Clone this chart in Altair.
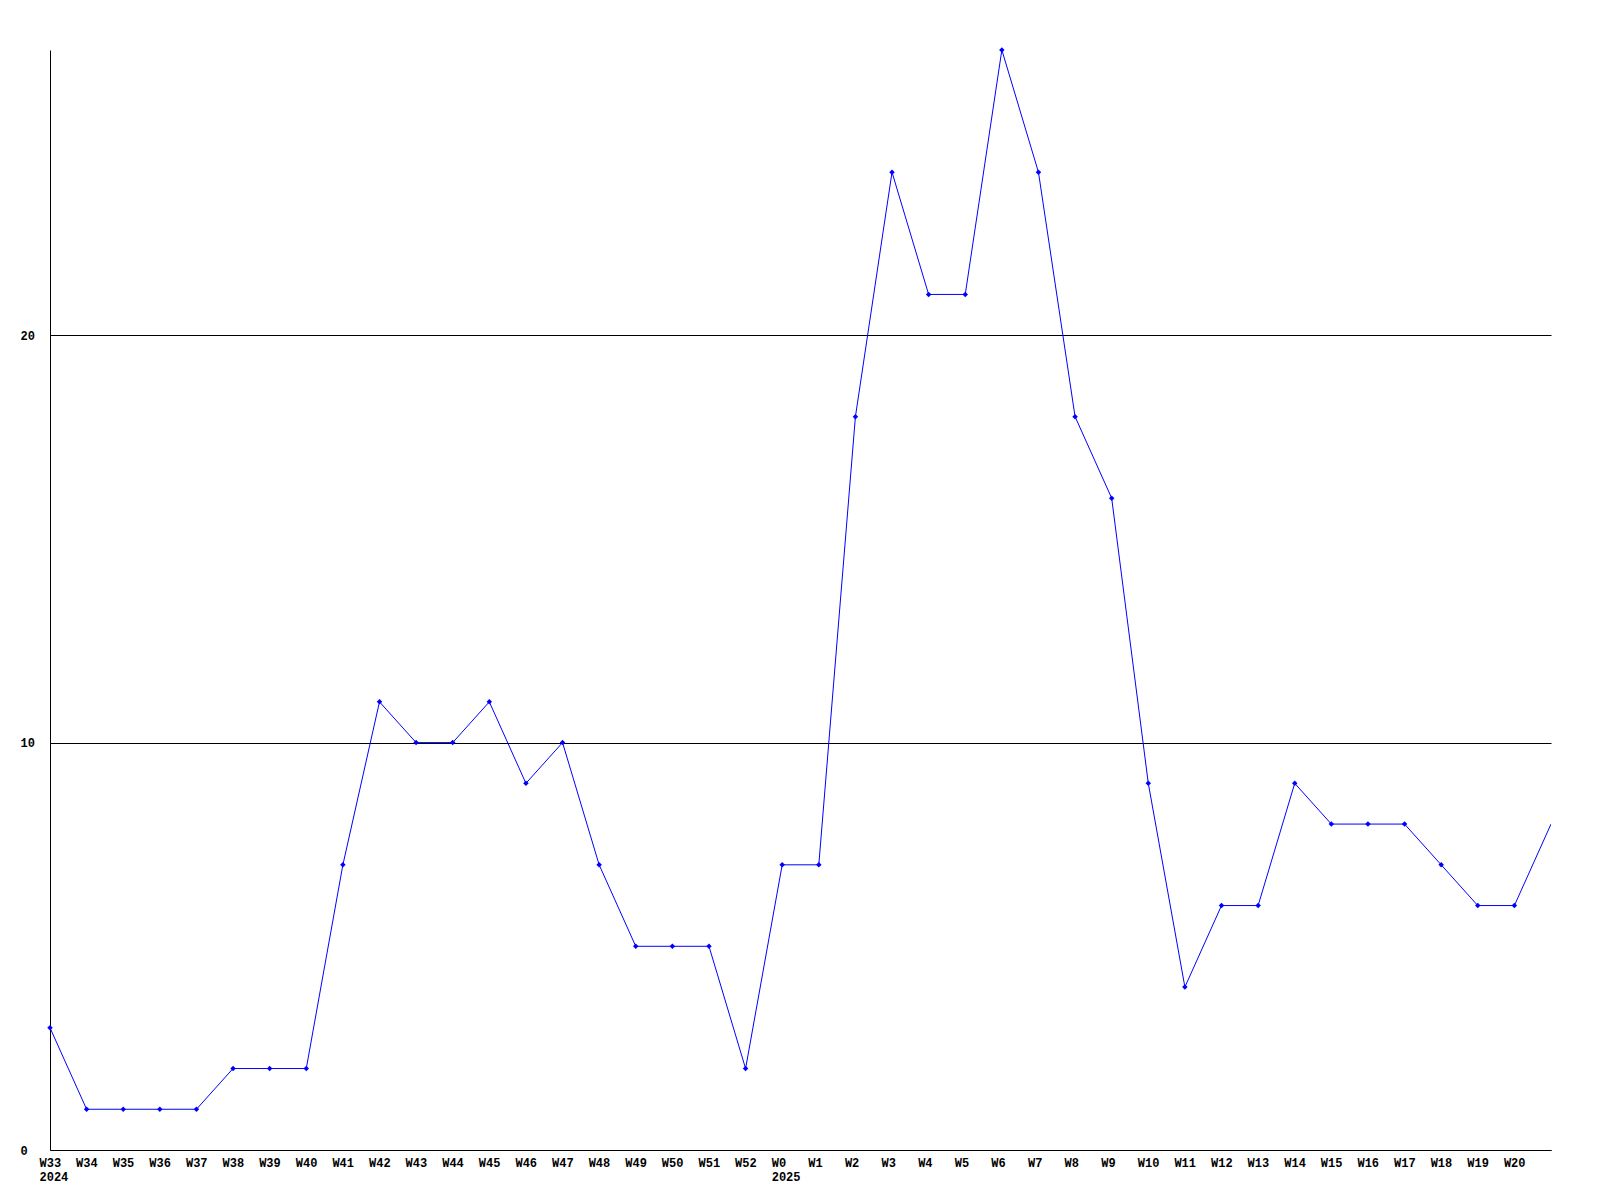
import altair as alt
import pandas as pd

weeks = ["W33", "W34", "W35", "W36", "W37", "W38", "W39", "W40", "W41", "W42",
         "W43", "W44", "W45", "W46", "W47", "W48", "W49", "W50", "W51", "W52",
         "W0", "W1", "W2", "W3", "W4", "W5", "W6", "W7", "W8", "W9", "W10",
         "W11", "W12", "W13", "W14", "W15", "W16", "W17", "W18", "W19", "W20", "W21"]
values = [3, 1, 1, 1, 1, 2, 2, 2, 7, 11, 10, 10, 11, 9, 10, 7, 5, 5, 5, 2,
          7, 7, 18, 24, 21, 21, 27, 24, 18, 16, 9, 4, 6, 6, 9, 8, 8, 8, 7, 6, 6, 8]
year_marks = {"W33": "2024", "W0": "2025"}
hidden_labels = ["W21"]
y_ticks = [0, 10, 20]

df = pd.DataFrame({"week": weeks, "value": values})

expr = "datum.value"
for w in hidden_labels:
    expr = f"datum.value == '{w}' ? '' : " + expr
for w, yr in year_marks.items():
    expr = f"datum.value == '{w}' ? ['{w}', '{yr}'] : " + expr

FONT = "Liberation Mono"

x = alt.X("week:N", sort=weeks, scale=alt.Scale(type="point", padding=0),
          axis=alt.Axis(title=None, labelExpr=expr, labelAngle=0, labelAlign="left",
                        labelOffset=-11, labelBaseline="top", labelPadding=7,
                        labelLineHeight=14, ticks=False, grid=False,
                        domainColor="black", labelFont=FONT, labelFontWeight="bold",
                        labelFontSize=12, labelColor="black", labelOverlap=False))
y = alt.Y("value:Q", scale=alt.Scale(domain=[0, 27], nice=False, zero=True),
          axis=alt.Axis(title=None, values=y_ticks, labelAlign="left", labelPadding=30,
                        labelBaseline="middle", ticks=False, grid=True, gridColor="black",
                        gridOpacity=1, gridWidth=1, domainColor="black", labelFont=FONT,
                        labelFontWeight="bold", labelFontSize=12, labelColor="black"))

line = alt.Chart(df).mark_line(color="#0000ff", strokeWidth=1, clip=True).encode(x=x, y=y)
pts = alt.Chart(df).transform_filter(
    "indexof(" + str(hidden_labels) + ", datum.week) < 0"
).mark_point(shape="diamond", filled=True, color="#0000ff", size=30, opacity=1).encode(x=x, y=y)

chart = (line + pts).properties(
    width=1501, height=1100,
    background="white",
    autosize=alt.AutoSizeParams(type="none"),
    padding={"left": 42, "top": 42, "right": 40, "bottom": 60},
).configure_view(stroke=None, strokeWidth=0)

chart.save("out.html", embed_options={"renderer": "svg", "actions": False})
